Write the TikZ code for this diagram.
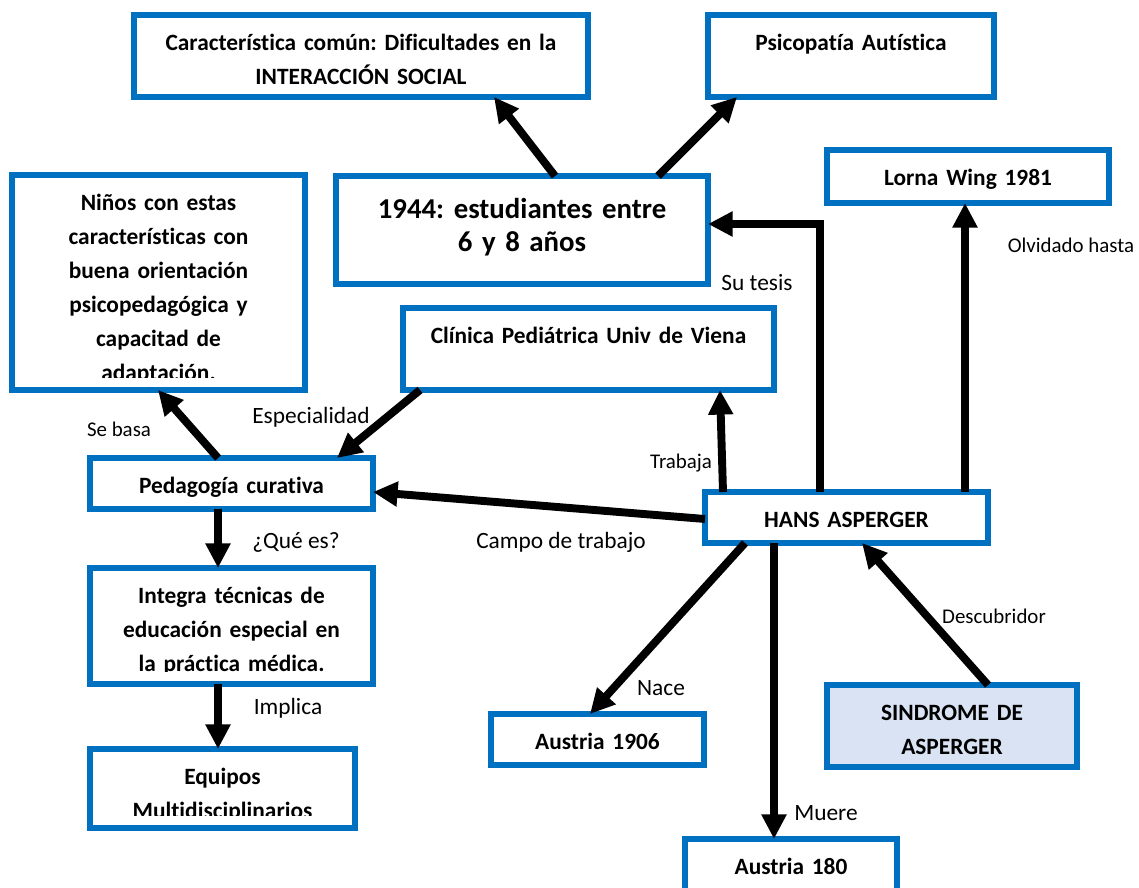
\documentclass[tikz,border=0pt]{standalone}
\usepackage{fontspec}
\setmainfont{Carlito}[Ligatures=NoCommon]
\usetikzlibrary{arrows.meta}
\definecolor{boxblue}{HTML}{0070C0}
\definecolor{boxfill}{HTML}{DAE3F3}

\begin{document}
\begin{tikzpicture}[x=0.02cm, y=-0.02cm,
  box/.style={draw=boxblue, line width=3.4pt, fill=white, inner sep=0pt, outer sep=0pt},
  bsize/.style 2 args={minimum width={(#1-6)*0.02cm}, minimum height={(#2-6)*0.02cm}},
  boxfont/.style={font=\fontsize{13.3}{19.3}\selectfont\bfseries},
  bigfont/.style={font=\fontsize{16.4}{18.7}\selectfont\bfseries},
  % box text: top-aligned, clipped a little above the bottom border
  btextclip/.style 2 args={path picture={
      \clip ([yshift=#1]path picture bounding box.south west) rectangle (path picture bounding box.north east);
      \node[boxfont, text width=10cm, anchor=base, inner sep=0pt]
        at ([yshift=-0.71cm]path picture bounding box.north)
        {\centering\frenchspacing #2\endgraf};}},
  btext/.style={btextclip={0.18cm}{#1}},
  btextcut/.style={btextclip={0.26cm}{#1}},
  bigtext/.style={path picture={
      \node[bigfont, text width=10cm, anchor=base, inner sep=0pt]
        at ([yshift=-0.86cm]path picture bounding box.north)
        {\centering\frenchspacing #1\endgraf};}},
  lbl/.style={font=\fontsize{13.3}{16}\selectfont, inner sep=0pt},
  slbl/.style={font=\fontsize{11.9}{14}\selectfont, inner sep=0pt},
  arr/.style={line width=4.5pt, -{Triangle[length=14pt,width=13.5pt]}},
]
\useasboundingbox (0,0) rectangle (1139,888);
\clip (0,0) rectangle (1139,888);

% concept boxes
\node[box, bsize={460}{88}, btext={Característica común: Dificultades en la\\INTERACCIÓN SOCIAL}] (A) at (361,56) {};
\node[box, bsize={292}{88}, btext={Psicopatía Autística}] (B) at (851,56) {};
\node[box, bsize={378}{114}, bigtext={1944: estudiantes entre\\6 y 8 años}] (C) at (522,230) {};
\node[box, bsize={299}{221}, btextcut={Niños con estas\\características con\\buena orientación\\psicopedagógica y\\capacitad de\\adaptación.}] (D) at (158.5,282.5) {};
\node[box, bsize={377}{88}, btext={Clínica Pediátrica Univ de Viena}] (E) at (588.5,349) {};
\node[box, bsize={288}{59}, btext={Lorna Wing 1981}] (F) at (968,176.5) {};
\node[box, bsize={289}{57}, btext={Pedagogía curativa}] (G) at (231.5,483.5) {};
\node[box, bsize={289}{122}, btextcut={Integra técnicas de\\educación especial en\\la práctica médica.}] (H) at (231.5,626) {};
\node[box, bsize={271}{85}, btextcut={Equipos\\Multidisciplinarios}] (I) at (222.5,788.5) {};
\node[box, bsize={289}{57}, btext={HANS ASPERGER}] (J) at (846.5,517.5) {};
\node[box, fill=boxfill, bsize={256}{88}, btext={SINDROME DE\\ASPERGER}] (K) at (952,726) {};
\node[box, bsize={219}{57}, btext={Austria 1906}] (L) at (597.5,739.5) {};
\node[box, bsize={218}{69}, btext={Austria 180}] (M) at (791,870.5) {};

% connector labels
\node[lbl]  (ltesis) at (757,283) {Su tesis};
\node[slbl] (lolv)   at (1071,245) {Olvidado hasta};
\node[slbl] (ltrab)  at (681,463) {Trabaja};
\node[lbl]  (lesp)   at (311,417) {Especialidad};
\node[slbl] (lbasa)  at (119,429) {Se basa};
\node[lbl]  (lque)   at (296,542) {¿Qué es?};
\node[lbl]  (limpl)  at (288,708) {Implica};
\node[lbl]  (lcampo) at (561,542) {Campo de trabajo};
\node[lbl]  (lnace)  at (661,688) {Nace};
\node[slbl] (ldesc)  at (994,616) {Descubridor};
\node[lbl]  (lmuere) at (826,813) {Muere};

% connectors
\draw[arr] (C.north -| 555,0) -- (A.south -| 494,0);
\draw[arr] (C.north -| 658,0) -- (B.south -| 737,0);
\draw[arr] (J.north -| 820,0) |- (C.east |- 0,224);
\draw[arr] (J.north -| 965,0) -- (F.south -| 965,0);
\draw[arr] (J.north -| 723,0) -- (E.south -| 720,0);
\draw[arr] (J.west |- 0,519) -- (G.east |- 0,492);
\draw[arr] (E.south -| 420,0) -- (G.north -| 337,0);
\draw[arr] (G.north -| 218,0) -- (D.south -| 158,0);
\draw[arr] (G.south -| 218,0) -- (H.north -| 218,0);
\draw[arr] (H.south -| 218,0) -- (I.north -| 218,0);
\draw[arr] (J.south -| 745,0) -- (L.north -| 590,0);
\draw[arr] (J.south -| 774,0) -- (M.north -| 774,0);
\draw[arr] (K.north -| 988,0) -- (J.south -| 862,0);
\end{tikzpicture}
\end{document}
